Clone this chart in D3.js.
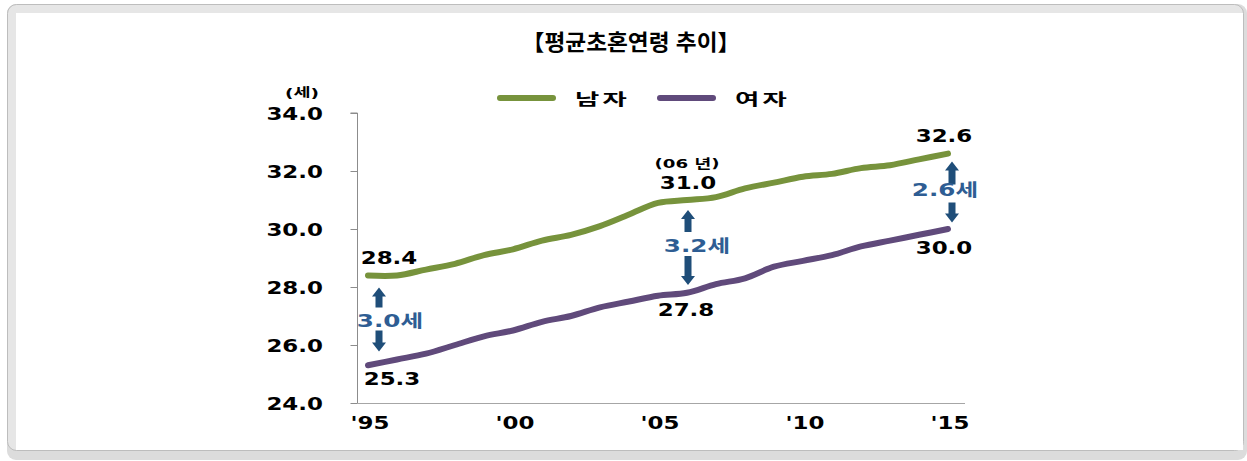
<!DOCTYPE html>
<html lang='ko'>
<head>
<meta charset='UTF-8'>
<title>평균초혼연령 추이</title>
<script src='https://d3js.org/d3.v7.min.js'></script>
<style>
  body { margin: 0; background: #fff; }
  svg { display: block; }
  text { font-family: 'DejaVu Sans', 'Noto Sans CJK KR', sans-serif; font-weight: bold; }
</style>
</head>
<body>
<div id='chart'></div>
<script>
// data
const years = d3.range(1995, 2016);
const male = [28.4, 28.4, 28.6, 28.8, 29.1, 29.3, 29.6, 29.8, 30.1, 30.5, 30.9,
              31.0, 31.1, 31.4, 31.6, 31.8, 31.9, 32.1, 32.2, 32.4, 32.6];
const female = [25.3, 25.5, 25.7, 26.0, 26.3, 26.5, 26.8, 27.0, 27.3, 27.5, 27.7,
                27.8, 28.1, 28.3, 28.7, 28.9, 29.1, 29.4, 29.6, 29.8, 30.0];
const yTicks = [24, 26, 28, 30, 32, 34];
const xTicks = [1995, 2000, 2005, 2010, 2015];
const xTickLabels = ["'95", "'00", "'05", "'10", "'15"];
const seriesNames = ['남자', '여자'];
const annYears = [1995, 2006, 2015];
const annGaps = ['3.0세', '3.2세', '2.6세'];

const W = 1247, H = 461;
const green = '#77933C', purple = '#604A7B';
const arrowCol = '#1F4E79', gapCol = '#2E5D93';
const SX = 1.35; // labels in the picture are stretched sideways

const svg = d3.select('#chart').append('svg').attr('width', W).attr('height', H);

// frame
svg.append('rect').attr('x', 7).attr('y', 4).attr('width', 1240).attr('height', 456)
  .attr('rx', 9).attr('fill', '#dcdcdc');
svg.append('rect').attr('x', 7.5).attr('y', 4.5).attr('width', 1236).attr('height', 446)
  .attr('rx', 9).attr('fill', '#e6e6e6').attr('stroke', '#bdbdbd');
svg.append('rect').attr('x', 16).attr('y', 13).attr('width', 1227).attr('height', 437)
  .attr('fill', '#fff');

const x = d3.scaleLinear().domain([1995, 2015]).range([368, 948]);
const y = d3.scaleLinear().domain([24, 34]).range([403, 113]);

// stretched text helper
function stext(parent, px, py, str, size, sx, anchor, fill, family) {
  const g = parent.append('g').attr('transform', `translate(${px},${py}) scale(${sx},1)`);
  const t = g.append('text').attr('text-anchor', anchor || 'middle')
    .attr('font-size', size).attr('fill', fill || '#000').text(str);
  if (family) t.style('font-family', family);
  return t;
}

// title
stext(svg, 631, 50, '【평균초혼연령 추이】', 22, 1.03, 'middle', '#000', "'Noto Sans CJK KR', sans-serif");

// axes
const yAxis = d3.axisLeft(y).tickValues(yTicks).tickSize(7).tickFormat('');
const ya = svg.append('g').attr('transform', 'translate(357.5,0)').call(yAxis);
ya.select('.domain').attr('stroke', '#8c8c8c').attr('d', 'M-7,113H0V403.5');
ya.selectAll('.tick line').attr('stroke', '#8c8c8c');
svg.append('line').attr('x1', 357).attr('x2', 965).attr('y1', 403.5).attr('y2', 403.5)
  .attr('stroke', '#a6a6a6');

yTicks.forEach(v => stext(svg, 323, y(v) + 6.5, d3.format('.1f')(v), 17, SX, 'end'));
stext(svg, 302, 97, '(세)', 12, 1.55, 'middle');
xTicks.forEach((v, i) => stext(svg, x(v) + 2, 429, xTickLabels[i], 17, SX, 'middle'));

// lines
const line = d3.line().x((d, i) => x(years[i])).y(d => y(d)).curve(d3.curveCatmullRom.alpha(0.5));
[[male, green], [female, purple]].forEach(([s, c]) => {
  svg.append('path').attr('d', line(s)).attr('fill', 'none').attr('stroke', c)
    .attr('stroke-width', 6).attr('stroke-linecap', 'round');
});

// legend
const legend = [[500, green], [660, purple]];
legend.forEach(([lx, c], i) => {
  svg.append('line').attr('x1', lx).attr('x2', lx + 53).attr('y1', 98).attr('y2', 98)
    .attr('stroke', c).attr('stroke-width', 6).attr('stroke-linecap', 'round');
  stext(svg, lx + 75, 105, seriesNames[i], 16, 1.65, 'start').attr('letter-spacing', 2);
});

// annotations
const annLayout = {
  1995: { ax: 11, upTop: 12, upLen: 20, textY: 45, downTop: 55, downLen: 21, tx: 22, m: [21, -18], f: [24, 13] },
  2006: { ax: 1, upTop: 10, upLen: 22, textY: 45, downTop: 56, downLen: 29, tx: 10, m: [1, -18], f: [-1, 17] },
  2015: { ax: 4, upTop: 8, upLen: 23, textY: 36, downTop: 49, downLen: 20, tx: -3, m: [-4, -18], f: [-4, 18] }
};

function arrow(cx, tip, len, dir) {
  // dir -1 = points up, +1 = points down
  const hw = 7, sw = 3.5, hl = 9;
  const base = tip - dir * len, neck = tip - dir * hl;
  return `M${cx},${tip}L${cx + hw},${neck}L${cx + sw},${neck}L${cx + sw},${base}` +
    `L${cx - sw},${base}L${cx - sw},${neck}L${cx - hw},${neck}Z`;
}

svg.append('clipPath').attr('id', 'plotclip').append('rect')
  .attr('x', 357).attr('y', 0).attr('width', 900).attr('height', H);
const annG = svg.append('g').attr('clip-path', 'url(#plotclip)');

annYears.forEach((yr, i) => {
  const k = years.indexOf(yr), L = annLayout[yr];
  const px = x(yr), ym = y(male[k]), yf = y(female[k]);
  const ax = px + L.ax;
  annG.append('path').attr('d', arrow(ax, ym + L.upTop, L.upLen, -1)).attr('fill', arrowCol);
  annG.append('path').attr('d', arrow(ax, ym + L.downTop + L.downLen, L.downLen, 1)).attr('fill', arrowCol);
  stext(annG, px + L.tx, ym + L.textY + 6.5, annGaps[i], 17, 1.45, 'middle', gapCol);
  stext(svg, px + L.m[0], ym + L.m[1] + 6.5, d3.format('.1f')(male[k]), 17, SX, 'middle');
  stext(svg, px + L.f[0], yf + L.f[1] + 6.5, d3.format('.1f')(female[k]), 17, SX, 'middle');
  if (yr === 2006) stext(svg, px, ym - 37 + 5, '(06 년)', 13, 1.4, 'middle');
});
</script>
</body>
</html>
